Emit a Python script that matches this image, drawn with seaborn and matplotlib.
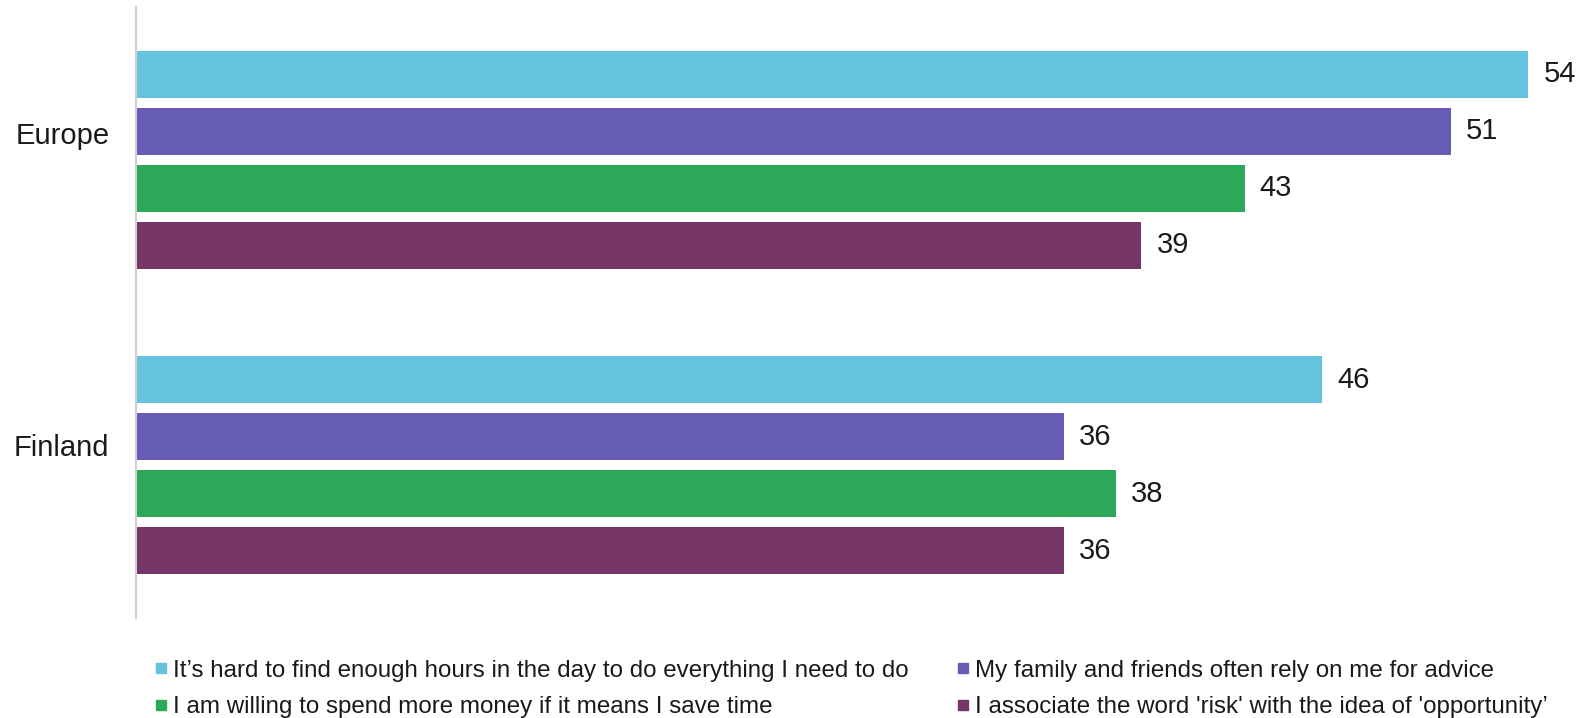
import matplotlib
matplotlib.use("Agg")
import matplotlib.pyplot as plt
import matplotlib.transforms as mtransforms
import seaborn as sns
import pandas as pd
from matplotlib.lines import Line2D

regions = ["Europe", "Finland"]
statements = [
    "It\u2019s hard to find enough hours in the day to do everything I need to do",
    "My family and friends often rely on me for advice",
    "I am willing to spend more money if it means I save time",
    "I associate the word 'risk' with the idea of 'opportunity\u2019",
]
europe_values = [54, 51, 43, 39]
finland_values = [46, 36, 38, 36]
colors = ["#65C3DE", "#675DB7", "#2BA858", "#753567"]

rows = []
for s, e, f in zip(statements, europe_values, finland_values):
    rows.append({"region": "Europe", "statement": s, "value": e})
    rows.append({"region": "Finland", "statement": s, "value": f})
df = pd.DataFrame(rows)

sns.set_theme(style="white")
plt.rcParams["font.family"] = ["Liberation Sans", "DejaVu Sans"]

fig = plt.figure(figsize=(15.84, 7.18), dpi=100)
ax = fig.add_axes([136 / 1584, 1 - 618 / 718, (1560 - 136) / 1584, (618 - 7) / 718])

sns.barplot(data=df, y="region", x="value", hue="statement", order=regions,
            hue_order=statements, palette=colors, orient="h", width=0.746,
            gap=0.17, ax=ax, legend=False, saturation=1, edgecolor="none")

for c in ax.containers:
    ax.bar_label(c, fmt="%g", padding=11, fontsize=21, color="#1a1a1a")

ax.set_xlim(0, (1560 - 136) / 25.78)
ax.set_ylim(1.5, -0.5)
ax.set_xlabel("")
ax.set_ylabel("")
ax.set_xticks([])
ax.tick_params(axis="y", length=0, pad=19, labelsize=21, labelcolor="#1a1a1a")
# category labels sit a little above the group centre in the reference
label_shift_px = [27, 20]
for lab, dy in zip(ax.get_yticklabels(), label_shift_px):
    off = mtransforms.ScaledTranslation(0, dy / 100, fig.dpi_scale_trans)
    lab.set_transform(lab.get_transform() + off)
for side in ["top", "right", "bottom"]:
    ax.spines[side].set_visible(False)
ax.spines["left"].set_color("#D0D0D0")
ax.spines["left"].set_linewidth(1.5)

handles = [Line2D([], [], marker="s", linestyle="none", markersize=7.9,
                  markerfacecolor=c, markeredgecolor=c) for c in colors]
order = [0, 2, 1, 3]  # legend fills column-wise
fig.legend([handles[i] for i in order], [statements[i] for i in order],
           ncol=2, loc="upper left",
           bbox_to_anchor=(153.5 / 1584, 1 - 659.5 / 718), frameon=False,
           borderpad=0, borderaxespad=0,
           fontsize=17.4, handletextpad=0.2, columnspacing=1.95,
           labelspacing=0.6, handlelength=0.6, labelcolor="#1a1a1a")

fig.savefig("out.png", dpi=100)
